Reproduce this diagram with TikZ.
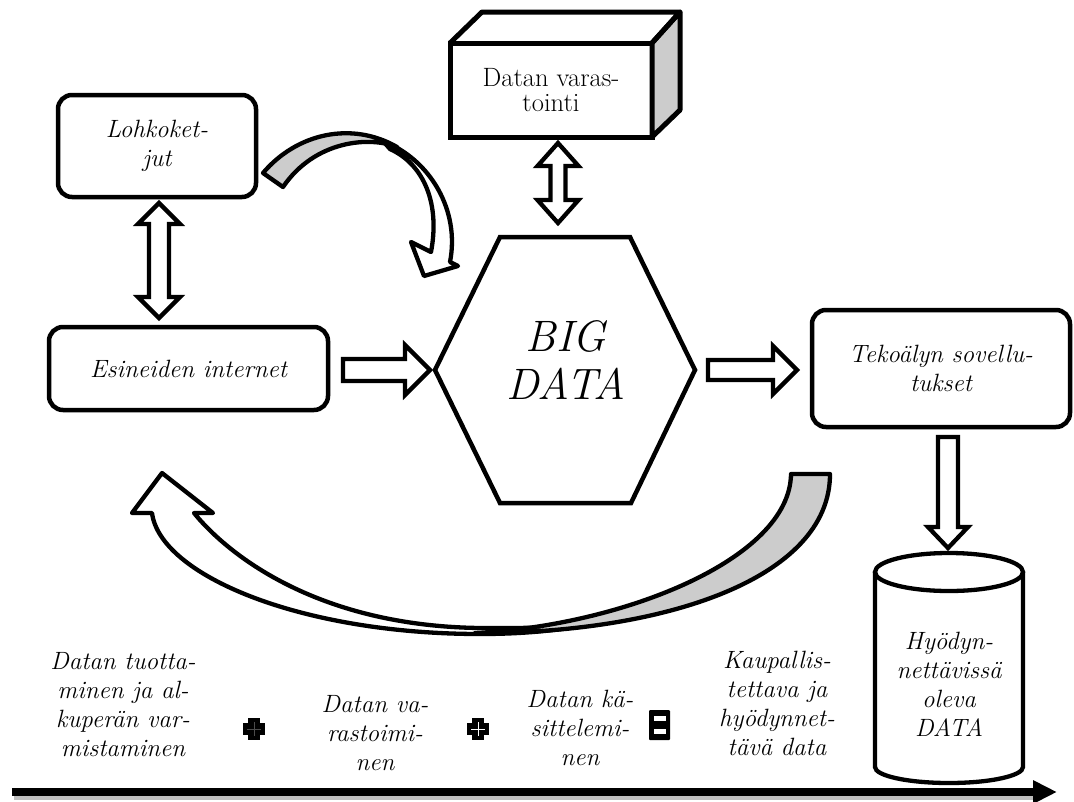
\documentclass[tikz,border=0pt]{standalone}
\usetikzlibrary{calc,arrows.meta}

\definecolor{sidegray}{gray}{0.8}
\newcommand\txtfont{\fontsize{25}{29}\selectfont\itshape}

% Straight block arrow: #1 start, #2 tip, #3 shaft half width, #4 head half width, #5 head length
\newcommand\fatarrow[5]{%
  \coordinate (fa-s) at #1;
  \coordinate (fa-e) at #2;
  \coordinate (fa-h) at ($(fa-e)!#5!(fa-s)$);
  \path[blockarrow] ($(fa-s)!#3!90:(fa-e)$) -- ($(fa-h)!#3!-90:(fa-s)$)
    -- ($(fa-h)!#4!-90:(fa-s)$) -- (fa-e) -- ($(fa-h)!#4!90:(fa-s)$)
    -- ($(fa-h)!#3!90:(fa-s)$) -- ($(fa-s)!#3!-90:(fa-e)$) -- cycle;}

% Block arrow with a head at both ends
\newcommand\fatdoublearrow[5]{%
  \coordinate (fa-s) at #1;
  \coordinate (fa-e) at #2;
  \coordinate (fa-hs) at ($(fa-s)!#5!(fa-e)$);
  \coordinate (fa-he) at ($(fa-e)!#5!(fa-s)$);
  \path[blockarrow] (fa-s) -- ($(fa-hs)!#4!90:(fa-e)$) -- ($(fa-hs)!#3!90:(fa-e)$)
    -- ($(fa-he)!#3!-90:(fa-s)$) -- ($(fa-he)!#4!-90:(fa-s)$) -- (fa-e)
    -- ($(fa-he)!#4!90:(fa-s)$) -- ($(fa-he)!#3!90:(fa-s)$)
    -- ($(fa-hs)!#3!-90:(fa-e)$) -- ($(fa-hs)!#4!-90:(fa-e)$) -- cycle;}

% Bold plus sign centred at #1
\newcommand\boldplus[2]{%
  \fill ($#1+(-11,-6)$) rectangle ($#1+(11,6)$);
  \fill ($#1+(-6,-11)$) rectangle ($#1+(6,11)$);
  \draw[#2, line width=0.7pt] ($#1+(-7,0)$) -- ($#1+(7,0)$) ($#1+(0,-7)$) -- ($#1+(0,7)$);}

\begin{document}
\begin{tikzpicture}[x=1pt, y=-1pt,
  outline/.style={draw=black, line width=4.3pt, outer sep=0pt},
  blockarrow/.style={outline, fill=white, line join=miter},
  box/.style={outline, line width=4.5pt, rounded corners=14pt, align=center, font=\txtfont},
  txt/.style={align=center, font=\txtfont},
  ribbon/.style={outline, line join=round}]

\fill[white] (0,0) rectangle (1074,801);
\useasboundingbox (0,0) rectangle (1074,801);

% ---- storage block (3D box) ----
\node[outline, line width=5pt, minimum width=202pt, minimum height=94pt,
      align=center, font=\fontsize{26.5}{25.5}\selectfont] (store) at (551,90) {Datan varas-\\tointi};
\filldraw[outline, line width=5pt, fill=sidegray, line join=round]
  (store.north east) -- ++(28,-31) -- ++(0,98) -- (store.south east) -- cycle;
\draw[outline, line width=5pt, line join=round]
  (store.north west) -- ++(32,-31) -- ++(198,0) -- ++(-28,31);

% ---- rounded boxes ----
\node[box, minimum width=198pt, minimum height=102pt] (lohko) at (157,146) {Lohkoket-\\jut};
\node[box, minimum width=279pt, minimum height=83pt] (esin) at (188.5,368.5) {Esineiden internet};
\node[box, minimum width=258pt, minimum height=117pt] (teko) at (941,368.5) {Tekoälyn sovellu-\\tukset};

% ---- BIG DATA hexagon ----
\node[minimum width=260pt, minimum height=266pt, inner sep=0pt, outer sep=0pt] (bd) at (565,370) {};
\draw[outline, line width=4.5pt, line join=miter] (bd.west) -- ($(bd.north)+(-65,0)$) -- ($(bd.north)+(65,0)$)
  -- (bd.east) -- ($(bd.south)+(66,0)$) -- ($(bd.south)+(-65,0)$) -- cycle;
\node[align=center, font=\fontsize{44}{48}\selectfont\itshape] (bdtext) at (566,360) {BIG\\DATA};

% ---- data cylinder ----
\node[minimum width=148pt, minimum height=230pt, inner sep=0pt, outer sep=0pt] (cyl) at (949,668) {};
\draw[outline] ($(cyl.north west)+(0,19)$) -- ($(cyl.south west)+(0,-16)$)
  arc[start angle=180, end angle=360, x radius=74pt, y radius=16pt]
  -- ($(cyl.north east)+(0,19)$);
\draw[outline] ($(cyl.north)+(0,19)$) ellipse[x radius=74pt, y radius=19pt];
\node[txt] (cyltext) at (949,684) {Hyödyn-\\nettävissä\\oleva\\DATA};

% ---- straight block arrows ----
\fatdoublearrow{($(store.south)+(7,6)$)}{($(bd.north)+(-7,-14)$)}{7.5pt}{20.5pt}{23pt}
\fatdoublearrow{($(lohko.south)+(2,6)$)}{($(esin.north)+(-29.5,-9)$)}{10pt}{21pt}{21pt}
\fatarrow{($(esin.east)+(15,1.5)$)}{($(bd.west)+(-5,0)$)}{11pt}{25pt}{25pt}
\fatarrow{($(bd.east)+(13,0)$)}{($(teko.west)+(-15,1.5)$)}{10pt}{24pt}{24pt}
\fatarrow{($(teko.south)+(7,10)$)}{($(cyl.north)+(-1,-5)$)}{10pt}{20pt}{21pt}

% ---- curved ribbon arrow: blockchain -> big data ----
\filldraw[ribbon, fill=white] (383,141) .. controls (431,160) and (460,211) .. (450,262)
  -- (458,266) -- (424,276) -- (411,242) -- (431,252)
  .. controls (440,205) and (425,165) .. (390,149) -- cycle;
\filldraw[ribbon, fill=sidegray] (263,173) .. controls (297,133) and (352,121) .. (397,147)
  .. controls (370,136) and (315,140) .. (283,187) -- cycle;

% ---- curved ribbon arrow: back to the internet of things ----
\filldraw[ribbon, fill=white] (152,513) .. controls (160,575) and (300,634) .. (480,634)
  .. controls (520,634) and (550,631) .. (575,627)
  .. controls (540,628) and (510,628) .. (480,628)
  .. controls (320,626) and (230,557) .. (194,513)
  -- (213,513) -- (162,473) -- (132,513) -- cycle;
\filldraw[ribbon, fill=sidegray] (791,474) -- (830,474) .. controls (830,580) and (660,634) .. (475,633)
  .. controls (620,626) and (790,560) .. (791,474) -- cycle;

% ---- bottom row: value chain ----
\node[txt] (t1) at (123,705) {Datan tuotta-\\minen ja al-\\kuperän var-\\mistaminen};
\node[txt] (t2) at (375,733) {Datan va-\\rastoimi-\\nen};
\node[txt] (t3) at (580,728) {Datan kä-\\sittelemi-\\nen};
\node[txt] (t4) at (777,703) {Kaupallis-\\tettava ja\\hyödynnet-\\tävä data};

\coordinate (plusA) at (254,729);
\coordinate (plusB) at (478,729);
\coordinate (eqs) at (659.5,725);
\boldplus{(plusA)}{black!70}
\boldplus{(plusB)}{white}
\fill[rounded corners=1pt] ($(eqs)+(-10.5,-15)$) rectangle ($(eqs)+(10.5,15)$);
\fill[white] ($(eqs)+(-6,-9)$) rectangle ($(eqs)+(6,-4.5)$);
\fill[white] ($(eqs)+(-6,3.5)$) rectangle ($(eqs)+(6,9)$);

% ---- time axis ----
\coordinate (axs) at (12,792);
\coordinate (axe) at (1057,792);
\draw[line width=5pt, black!25] ($(axs)+(2,5)$) -- ($(axe)+(-22,5)$);
\draw[line width=8pt, -{Triangle[length=24pt, width=22pt]}] (axs) -- (axe);
\end{tikzpicture}
\end{document}
